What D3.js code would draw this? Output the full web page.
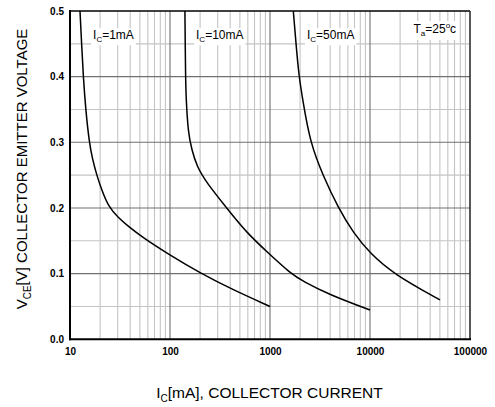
<!DOCTYPE html>
<html><head><meta charset="utf-8">
<script src="https://cdn.jsdelivr.net/npm/d3@7"></script>
<style>body{margin:0;background:#fff}svg{display:block}text{font-family:"Liberation Sans",Arial,sans-serif}</style>
</head><body>
<script>
// data
const xTicks = [10, 100, 1000, 10000, 100000];
const yTicks = [0.0, 0.1, 0.2, 0.3, 0.4, 0.5];
const curve1mA_I = [12.59, 13.06, 13.58, 14.35, 15.6, 16.8, 18.6, 20.7, 24.1, 30.4, 38.3, 52.1, 100, 200, 430, 1000];
const curve1mA_V = [0.5, 0.45, 0.4, 0.35, 0.299, 0.274, 0.249, 0.228, 0.2025, 0.185, 0.172, 0.156, 0.128, 0.101, 0.075, 0.050];
const curve10mA_I = [141, 143, 145, 152, 165, 185, 233, 369, 585, 1000, 1585, 2154, 3981, 10000];
const curve10mA_V = [0.5, 0.4, 0.365, 0.3145, 0.289, 0.2635, 0.238, 0.2, 0.162, 0.129, 0.101, 0.088, 0.0676, 0.0447];
const curve50mA_I = [1711, 1820, 1950, 2123, 2512, 3415, 4822, 6813, 10000, 17100, 50100];
const curve50mA_V = [0.5, 0.45, 0.4, 0.365, 0.300, 0.248, 0.2, 0.162, 0.131, 0.0997, 0.060];
const labels = [
  {main:"I", sub:"C", rest:"=1mA", I:17.0, V:0.457},
  {main:"I", sub:"C", rest:"=10mA", I:182, V:0.457},
  {main:"I", sub:"C", rest:"=50mA", I:2344, V:0.457}
];

const W = 495, H = 407;
const m = {l:70, r:25, t:11, b:67.7};
const svg = d3.select("body").append("svg").attr("width", W).attr("height", H);
const x = d3.scaleLog().domain([10, 100000]).range([m.l, W - m.r]);
const y = d3.scaleLinear().domain([0, 0.5]).range([H - m.b, m.t]);

const g = svg.append("g");
const minorX = [];
for (let d = 10; d < 100000; d *= 10) for (let k = 2; k <= 9; k++) minorX.push(d * k);
g.selectAll(".vminor").data(minorX).join("line")
  .attr("x1", d => x(d)).attr("x2", d => x(d)).attr("y1", y(0)).attr("y2", y(0.5))
  .attr("stroke", "#c4c4c4").attr("stroke-width", 1.1);
const minorY = [0.05, 0.15, 0.25, 0.35, 0.45];
g.selectAll(".hminor").data(minorY).join("line")
  .attr("x1", x(10)).attr("x2", x(100000)).attr("y1", d => y(d)).attr("y2", d => y(d))
  .attr("stroke", "#c4c4c4").attr("stroke-width", 1.1);
g.selectAll(".vmajor").data(xTicks.slice(1, -1)).join("line")
  .attr("x1", d => x(d)).attr("x2", d => x(d)).attr("y1", y(0)).attr("y2", y(0.5))
  .attr("stroke", "#707070").attr("stroke-width", 1.1);
g.selectAll(".hmajor").data(yTicks.slice(1, -1)).join("line")
  .attr("x1", x(10)).attr("x2", x(100000)).attr("y1", d => y(d)).attr("y2", d => y(d))
  .attr("stroke", "#707070").attr("stroke-width", 1.1);

labels.forEach(L => {
  const t = svg.append("text").attr("x", x(L.I)).attr("y", y(L.V)).attr("font-size", 12);
  t.append("tspan").text(L.main);
  t.append("tspan").attr("font-size", 8).attr("dy", 3).text(L.sub);
  t.append("tspan").attr("dy", -3).text(L.rest);
  const bb = t.node().getBBox();
  svg.insert("rect", "text").attr("x", bb.x - 2).attr("y", bb.y).attr("width", bb.width + 4).attr("height", bb.height + 1).attr("fill", "#fff");
});
{
  const t = svg.append("text").attr("x", 413.5).attr("y", 33).attr("font-size", 12);
  t.append("tspan").text("T");
  t.append("tspan").attr("font-size", 8).attr("dy", 3).text("a");
  t.append("tspan").attr("dy", -3).text("=25");
  t.append("tspan").attr("font-size", 8).attr("dy", -5).text("o");
  t.append("tspan").attr("dy", 5).text("c");
  const bb = t.node().getBBox();
  svg.insert("rect", "text").attr("x", bb.x - 2).attr("y", bb.y).attr("width", bb.width + 4).attr("height", bb.height + 2).attr("fill", "#fff");
}

const curves = [[curve1mA_I, curve1mA_V], [curve10mA_I, curve10mA_V], [curve50mA_I, curve50mA_V]];
curves.forEach(([I, V]) => {
  svg.append("path").datum(I.map((v, i) => [v, V[i]]))
    .attr("d", d3.line().x(d => x(d[0])).y(d => y(d[1])).curve(d3.curveBasis))
    .attr("fill", "none").attr("stroke", "#000").attr("stroke-width", 1.5);
});

// frame
svg.append("line").attr("x1", x(10)).attr("x2", x(100000)).attr("y1", y(0.5)).attr("y2", y(0.5)).attr("stroke", "#000").attr("stroke-width", 1.5);
svg.append("line").attr("x1", x(100000)).attr("x2", x(100000)).attr("y1", y(0.5)).attr("y2", y(0)).attr("stroke", "#222").attr("stroke-width", 1.5);
svg.append("line").attr("x1", x(10)).attr("x2", x(10)).attr("y1", y(0.5) - 1).attr("y2", y(0) + 1).attr("stroke", "#000").attr("stroke-width", 2);
svg.append("line").attr("x1", x(10) - 1).attr("x2", x(100000) + 1).attr("y1", y(0)).attr("y2", y(0)).attr("stroke", "#000").attr("stroke-width", 2);

const xAxis = d3.axisBottom(x).tickValues(xTicks).tickFormat(d3.format("d")).tickSize(0).tickPadding(9);
const xa = svg.append("g").attr("transform", `translate(0,${y(0)})`).call(xAxis);
xa.select(".domain").remove();
xa.selectAll("text").attr("font-size", 10).attr("font-weight", "bold").attr("fill", "#000").attr("font-family", "Liberation Sans, Arial, sans-serif");
const yAxis = d3.axisLeft(y).tickValues(yTicks).tickFormat(d3.format(".1f")).tickSize(0).tickPadding(6);
const ya = svg.append("g").attr("transform", `translate(${x(10)},0)`).call(yAxis);
ya.select(".domain").remove();
ya.selectAll("text").attr("font-size", 10).attr("font-weight", "bold").attr("fill", "#000").attr("font-family", "Liberation Sans, Arial, sans-serif");

{
  const t = svg.append("text").attr("x", 269.5).attr("y", 398).attr("text-anchor", "middle").attr("font-size", 15.5);
  t.append("tspan").text("I");
  t.append("tspan").attr("font-size", 10).attr("dy", 4).text("C");
  t.append("tspan").attr("dy", -4).text("[mA], COLLECTOR CURRENT");
}
{
  const t = svg.append("text").attr("transform", "translate(27,169) rotate(-90)").attr("text-anchor", "middle").attr("font-size", 15);
  t.append("tspan").text("V");
  t.append("tspan").attr("font-size", 10).attr("dy", 4).text("CE");
  t.append("tspan").attr("dy", -4).text("[V] COLLECTOR EMITTER VOLTAGE");
}
</script>
</body></html>
